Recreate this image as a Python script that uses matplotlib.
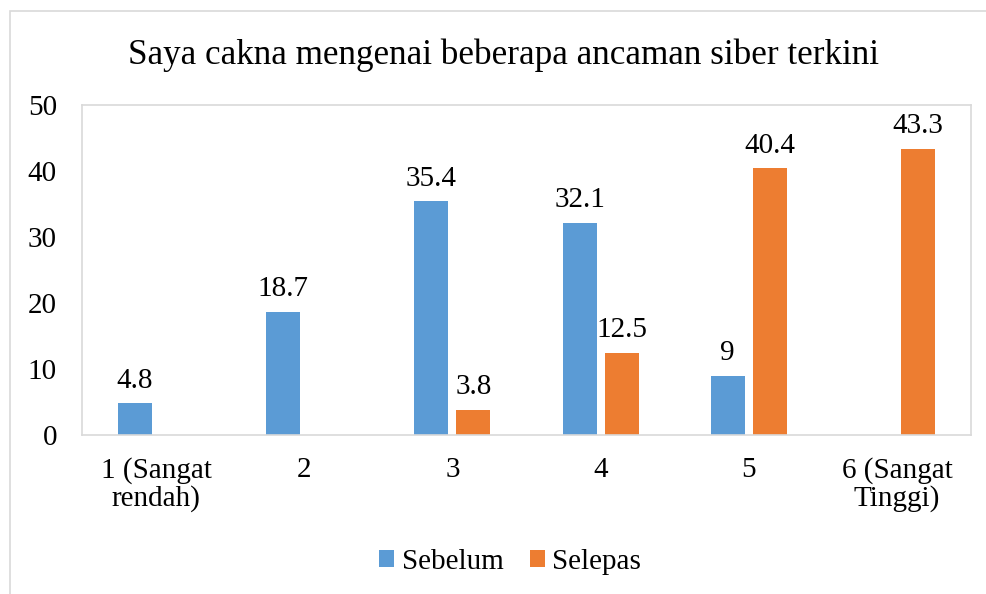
import matplotlib
matplotlib.use("Agg")
import matplotlib.pyplot as plt
import numpy as np
from matplotlib.patches import Rectangle

categories = ["1 (Sangat\nrendah)", "2", "3", "4", "5", "6 (Sangat\nTinggi)"]
sebelum = [4.8, 18.7, 35.4, 32.1, 9.0, None]
selepas = [None, None, 3.8, 12.5, 40.4, 43.3]
sebelum_labels = ["4.8", "18.7", "35.4", "32.1", "9", ""]
selepas_labels = ["", "", "3.8", "12.5", "40.4", "43.3"]
yticks = [0, 10, 20, 30, 40, 50]
title = "Saya cakna mengenai beberapa ancaman siber terkini"

plt.rcParams['font.family'] = ['Liberation Serif', 'DejaVu Serif']
FS = 21

fig = plt.figure(figsize=(9.87, 5.94), dpi=100)
fig.patches.append(Rectangle((10/987, -0.1), 1.5, 1 - 11/594 + 0.1, transform=fig.transFigure,
                             fill=False, edgecolor="#D9D9D9", linewidth=1.2))
ax = fig.add_axes([82/987, 1 - 435/594, (971 - 82)/987, (435 - 105)/594])

x = np.arange(len(categories))
w = 0.23
off = 0.142
c1, c2 = "#5B9BD5", "#ED7D31"
s1 = [v if v is not None else 0 for v in sebelum]
s2 = [v if v is not None else 0 for v in selepas]
b1 = ax.bar(x - off, s1, w, color=c1, label="Sebelum")
b2 = ax.bar(x + off, s2, w, color=c2, label="Selepas")
for i in range(len(x)):
    if sebelum[i] is not None:
        ax.annotate(sebelum_labels[i], (x[i] - off, sebelum[i]), xytext=(0, 7), textcoords="offset points",
                    ha="center", va="bottom", fontsize=FS)
    if selepas[i] is not None:
        ax.annotate(selepas_labels[i], (x[i] + off, selepas[i]), xytext=(0, 7), textcoords="offset points",
                    ha="center", va="bottom", fontsize=FS)

ax.set_xlim(-0.5, len(x) - 0.5)
ax.set_ylim(0, 50)
ax.set_yticks(yticks)
ax.set_yticklabels([str(t) for t in yticks], fontsize=FS)
ax.set_xticks(x)
ax.set_xticklabels(categories, fontsize=FS, linespacing=1.05)
ax.tick_params(axis="x", length=0, pad=16)
ax.tick_params(axis="y", length=0, pad=18)
for s in ax.spines.values():
    s.set_color("#D9D9D9")
    s.set_linewidth(1.2)

fig.text(504/987, 1 - 55/594, title, ha="center", va="center", fontsize=25.3)
fig.legend(handles=[b1, b2], loc="center", bbox_to_anchor=(510/987, 1 - 562/594), ncol=2,
           frameon=False, fontsize=FS, handlelength=0.52, handleheight=0.52, handletextpad=0.25,
           columnspacing=0.9)

fig.savefig("out.png", dpi=100)
